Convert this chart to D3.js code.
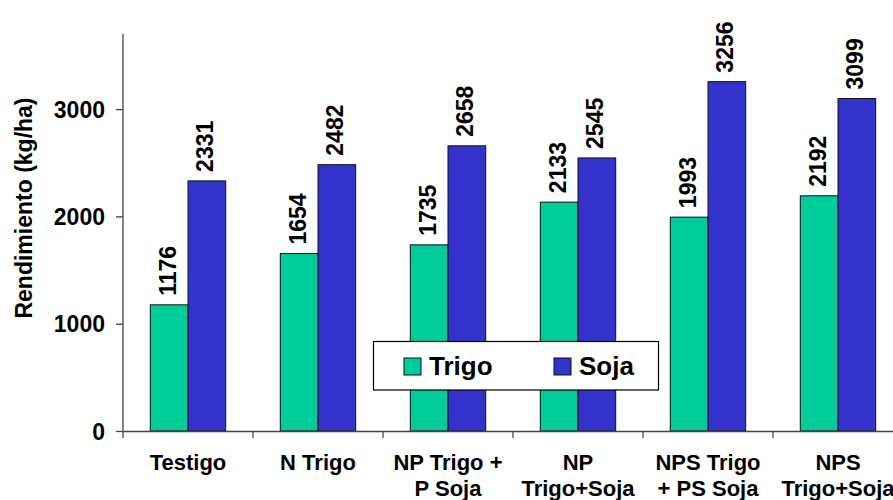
<!DOCTYPE html>
<html>
<head>
<meta charset="utf-8">
<script src="https://cdn.jsdelivr.net/npm/d3@7"></script>
<style>
  html, body { margin: 0; padding: 0; background: #fff; }
  text { font-family: Arial, "Liberation Sans", sans-serif; font-weight: bold; fill: #000; }
</style>
</head>
<body>
<svg id="chart" width="893" height="500"></svg>
<script>
const categories = [["Testigo"], ["N Trigo"], ["NP Trigo +", "P Soja"], ["NP", "Trigo+Soja"], ["NPS Trigo", "+ PS Soja"], ["NPS", "Trigo+Soja"]];
const seriesNames = ["Trigo", "Soja"];
const trigo = [1176, 1654, 1735, 2133, 1993, 2192];
const soja = [2331, 2482, 2658, 2545, 3256, 3099];
const yTicks = [0, 1000, 2000, 3000];
const colors = ["#00CC99", "#3333CC"];
const yTitle = "Rendimiento (kg/ha)";

const svg = d3.select("#chart");
const catKeys = categories.map((c, i) => i);
const x0 = d3.scaleBand().domain(catKeys).range([123, 903]).padding(0);
const x1 = d3.scaleBand().domain(seriesNames).range([0, x0.bandwidth()]).paddingInner(0).paddingOuter(0.724);
const y = d3.scaleLinear().domain([0, 3700]).range([431, 34]);
const color = d3.scaleOrdinal().domain(seriesNames).range(colors);

const data = catKeys.map(i => ({ i, values: [{ s: "Trigo", v: trigo[i] }, { s: "Soja", v: soja[i] }] }));

// bars
const groups = svg.append("g").selectAll("g").data(data).join("g")
  .attr("transform", d => `translate(${x0(d.i)},0)`);
groups.selectAll("rect").data(d => d.values).join("rect")
  .attr("x", d => x1(d.s))
  .attr("y", d => y(d.v))
  .attr("width", x1.bandwidth())
  .attr("height", d => y(0) - y(d.v))
  .attr("fill", d => color(d.s))
  .attr("stroke", "#111")
  .attr("stroke-width", 1);

// value labels (rotated)
groups.selectAll("text.val").data(d => d.values).join("text")
  .attr("class", "val")
  .attr("transform", d => `translate(${x1(d.s) + x1.bandwidth() / 2 + 6.5},${y(d.v) - 9}) rotate(-90)`)
  .attr("text-anchor", "start")
  .style("font-size", "23px")
  .text(d => d.v);

// y axis
const yAxis = d3.axisLeft(y).tickValues(yTicks).tickSize(7).tickPadding(11).tickFormat(d3.format("d"));
const gy = svg.append("g").attr("transform", "translate(123,0)").call(yAxis);
gy.select(".domain").attr("stroke", "#444").attr("stroke-width", 1.3).attr("d", `M0,${y(3700)}V${y(0) + 7}`);
gy.selectAll(".tick line").attr("stroke", "#444").attr("stroke-width", 1.3);
gy.selectAll(".tick text").style("font-size", "23px").attr("dy", "0.36em").attr("fill", "#000");

// x axis
const xAxis = d3.axisBottom(x0).tickValues([]).tickSizeOuter(0);
const gx = svg.append("g").attr("transform", `translate(0,${y(0)})`).call(xAxis);
gx.select(".domain").attr("stroke", "#444").attr("stroke-width", 1.3);
gx.selectAll("line.sep").data(catKeys.slice(1)).join("line")
  .attr("class", "sep")
  .attr("x1", d => x0(d)).attr("x2", d => x0(d))
  .attr("y1", 0).attr("y2", 7)
  .attr("stroke", "#444").attr("stroke-width", 1.3);

// category labels
const catLabels = svg.append("g").selectAll("text").data(catKeys).join("text")
  .attr("x", d => x0(d) + x0.bandwidth() / 2)
  .attr("y", 470)
  .attr("text-anchor", "middle")
  .style("font-size", "22px");
catLabels.selectAll("tspan").data(d => categories[d]).join("tspan")
  .attr("x", function () { return d3.select(this.parentNode).attr("x"); })
  .attr("dy", (d, j) => j === 0 ? 0 : 26)
  .text(d => d);

// y title
svg.append("text")
  .attr("transform", `translate(32,208) rotate(-90)`)
  .attr("text-anchor", "middle")
  .style("font-size", "23px")
  .text(yTitle);

// legend
const legend = svg.append("g");
legend.append("rect").attr("x", 373.5).attr("y", 341.5).attr("width", 285).attr("height", 48.5)
  .attr("fill", "#fff").attr("stroke", "#000").attr("stroke-width", 1.2);
const legX = [404, 554];
const items = legend.selectAll("g").data(seriesNames).join("g")
  .attr("transform", (d, i) => `translate(${legX[i]},358)`);
items.append("rect").attr("width", 17).attr("height", 17)
  .attr("fill", d => color(d)).attr("stroke", "#111").attr("stroke-width", 1);
items.append("text").attr("x", 25).attr("y", 16.5).style("font-size", "26px").text(d => d);
</script>
</body>
</html>
